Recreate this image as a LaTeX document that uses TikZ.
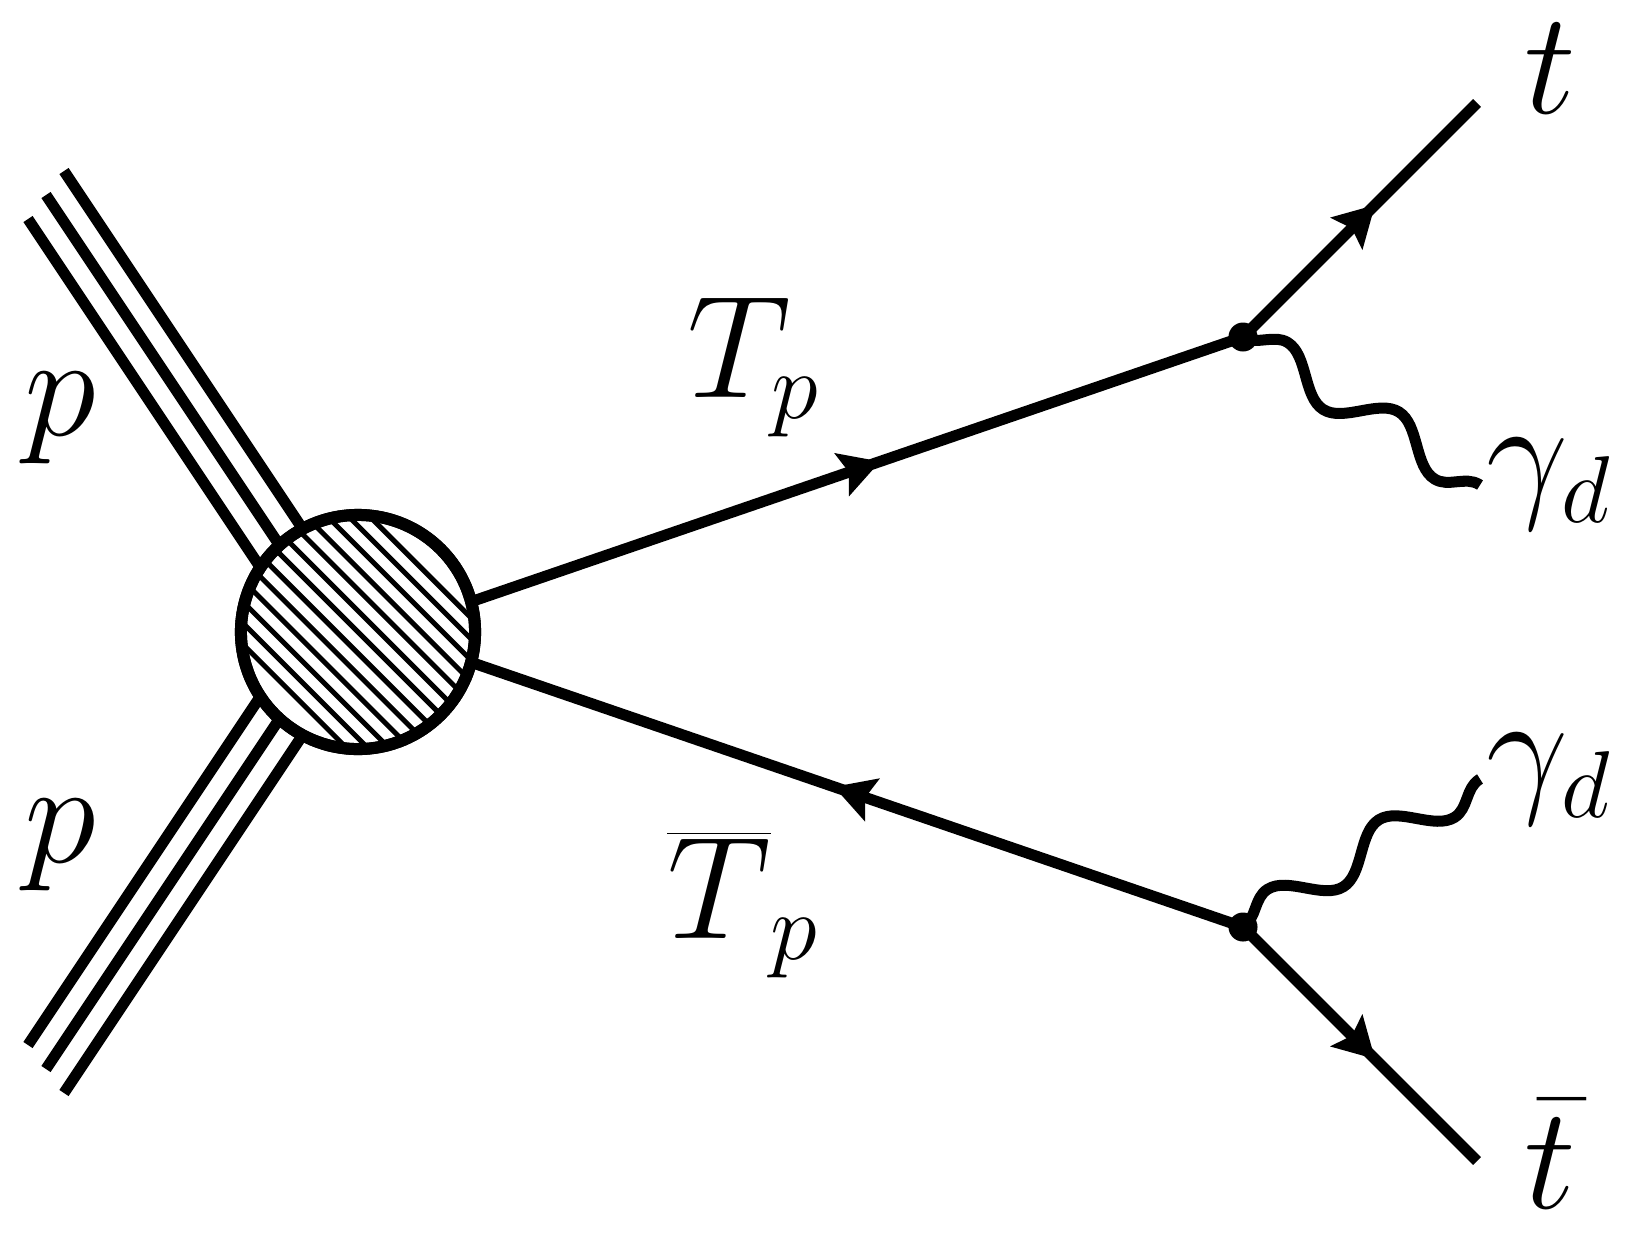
\RequirePackage{fix-cm}
\documentclass[tikz,border=0pt]{standalone}
\usetikzlibrary{decorations.pathmorphing,decorations.markings,arrows.meta,calc}
\DeclareMathSizes{41.5}{41.5}{27}{20}
\begin{document}
\begin{tikzpicture}[x=0.01cm,y=-0.01cm,
  fermion/.style={line width=0.11cm},
  proton/.style={line width=0.11cm},
  photon/.style={line width=0.11cm, decorate, decoration={snake, amplitude=0.19cm, segment length=1.31cm}},
  hatchline/.style={line width=0.05cm},
  blob/.style={line width=0.12cm},
  vdot/.style={circle, fill=black, inner sep=0pt, minimum size=0.29cm},
  lbl/.style={font=\fontsize{41.5}{50}\selectfont, inner sep=0pt, anchor=base},
  arrowmid/.style={postaction={decorate, decoration={markings, mark=at position #1 with {\arrow{Stealth[length=0.40cm,width=0.44cm,inset=0.07cm]}}}}},
]
\useasboundingbox (0,0) rectangle (1643,1245);
\coordinate (C) at (358,632);
\coordinate (V1) at (1243,337);
\coordinate (V2) at (1243,927);
\coordinate (tE) at (1477,103);
\coordinate (tbE) at (1477,1161);
\coordinate (g1) at (1480,485);
\coordinate (g2) at (1480,779);
\coordinate (B1) at ($(C)+(15:1.17cm)$);
\coordinate (B2) at ($(C)+(-15:1.17cm)$);
% proton lines
\foreach \n/\xx/\yy in {1/28/219, 2/46/195, 3/64/171} {
  \coordinate (pu\n) at (\xx,\yy);
  \coordinate (pui\n) at ($(pu\n)+(266,399)$);
  \draw[proton] (pu\n) -- (pui\n);
  \coordinate (pl\n) at (\xx,{1264-\yy});
  \coordinate (pli\n) at ($(pl\n)+(266,-399)$);
  \draw[proton] (pl\n) -- (pli\n);
}
% heavy partners
\draw[fermion, arrowmid=0.53] (B1) -- (V1);
\draw[fermion, arrowmid=0.53] (V2) -- (B2);
% blob
\draw[blob, fill=white] (C) circle[radius=1.17cm];
\begin{scope}
  \clip (C) circle[radius=1.17cm];
  \foreach \u in {-90,-75,...,90} {
    \draw[hatchline] ($(C)+({\u*0.7071-200},{-(\u)*0.7071-200})$) -- ($(C)+({\u*0.7071+200},{-(\u)*0.7071+200})$);
  }
\end{scope}
\draw[blob] (C) circle[radius=1.17cm];
% tops
\draw[fermion, arrowmid=0.565] (V1) -- (tE);
\draw[fermion, arrowmid=0.565] (V2) -- (tbE);
% dark photons
\draw[photon] (V1) -- (g1);
\draw[photon] (V2) -- (g2);
% vertices
\node[vdot] (dot1) at (V1) {};
\node[vdot] (dot2) at (V2) {};
% labels
\node[lbl] (lp1) at (60,435) {$p$};
\node[lbl] (lp2) at (60,862) {$p$};
\node[lbl] (lT1) at (754,397) {$T_p$};
\node[lbl] (lT2) at (743,938) {$\overline{T}_p$};
\node[lbl] (lt1) at (1550,113) {$t$};
\node[lbl] (lt2) at (1550,1208) {$\bar{t}$};
\node[lbl] (lg1) at (1549,501) {$\gamma_d$};
\node[lbl] (lg2) at (1549,796) {$\gamma_d$};
\end{tikzpicture}
\end{document}
